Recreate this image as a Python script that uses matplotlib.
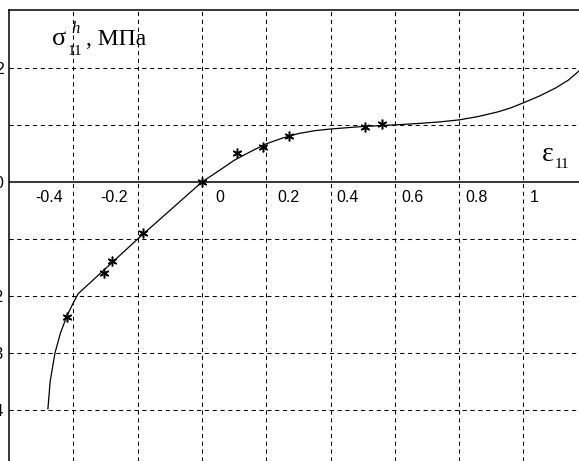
import matplotlib
matplotlib.use("Agg")
import matplotlib.pyplot as plt
import matplotlib.transforms as mtransforms

# fitted curve
curve_x = [-0.479, -0.472, -0.457, -0.44, -0.42, -0.40, -0.385, -0.30, -0.20, -0.10, 0.0,
           0.056, 0.10, 0.15, 0.20, 0.25, 0.30, 0.35, 0.40, 0.49, 0.59, 0.63, 0.68, 0.74, 0.80,
           0.86, 0.92, 0.96, 1.0, 1.05, 1.10, 1.14, 1.175]
curve_y = [-3.98, -3.5, -3.0, -2.65, -2.35, -2.12, -1.96, -1.52, -1.0, -0.5, 0.0,
           0.21, 0.38, 0.53, 0.67, 0.77, 0.85, 0.90, 0.93, 0.97, 1.0, 1.012, 1.03, 1.055, 1.09,
           1.15, 1.23, 1.30, 1.39, 1.51, 1.65, 1.79, 1.96]

# experimental points
pts_x = [-0.42, -0.305, -0.28, -0.183, 0.0, 0.109, 0.19, 0.27, 0.507, 0.56]
pts_y = [-2.37, -1.60, -1.39, -0.89, 0.0, 0.51, 0.62, 0.81, 0.97, 1.02]

xticks = [-0.4, -0.2, 0, 0.2, 0.4, 0.6, 0.8, 1]
xticklabels = ["-0.4", "-0.2", "0", "0.2", "0.4", "0.6", "0.8", "1"]
ygrid = [2, 1, -1, -2, -3, -4]
yticks = [2, 0, -2, -3, -4]
yticklabels = ["2", "0", "-2", "-3", "-4"]

# label offsets in pixels from grid line (layout only)
xlab_off = [-10, -10, 13, 11, 6, 7, 6, 6]

fig = plt.figure(figsize=(5.79, 4.61), dpi=100)
ax = fig.add_axes([9/579, 0, 1 - 9/579, 1 - 10/461])
ax.set_xlim(-0.6, 1.1726)
ax.set_ylim(-4.895, 3.018)

ax.spines['right'].set_visible(False)
ax.spines['bottom'].set_visible(False)
ax.spines['left'].set_linewidth(1.1)
ax.spines['top'].set_linewidth(1.1)

dash = (0, (4, 3.5))
for xv in xticks:
    ax.axvline(xv, color='black', lw=0.75, ls=dash, zorder=1)
for yv in ygrid:
    ax.axhline(yv, color='black', lw=0.75, ls=dash, zorder=1)
ax.axhline(0, color='black', lw=1.1, zorder=2)

ax.set_xticks([])
ax.set_yticks(yticks)
ax.set_yticklabels(yticklabels, fontsize=11.5, family='Liberation Sans')
ax.tick_params(axis='y', length=0, pad=3.8)

for xv, lab, off in zip(xticks, xticklabels, xlab_off):
    tr = mtransforms.offset_copy(ax.transData, fig=fig, x=off * 0.72, y=-15 * 0.72, units='points')
    ax.text(xv, 0, lab, transform=tr, ha='right' if off < 0 else 'left', va='center',
            fontsize=11.5, family='Liberation Sans')

ax.plot(curve_x, curve_y, color='black', lw=0.9, zorder=3)
ax.plot(pts_x, pts_y, ls='none', marker=(6, 2, 0), color='black', ms=7, mew=1.1, zorder=4)

W, H = 579, 461
serif = 'Liberation Serif'
# y-axis title: sigma_11^h, MPa
fig.text(52/W, 1 - 45/H, 'σ', fontsize=19, family=serif, va='baseline')
fig.text(68/W, 1 - 55/H, '11', fontsize=11, family=serif, va='baseline')
fig.text(71/W, 1 - 33/H, 'h', fontsize=12, family=serif, style='italic', va='baseline')
fig.text(86/W, 1 - 45/H, ', МПа', fontsize=17, family=serif, va='baseline')
# x-axis title: epsilon_11
fig.text(542/W, 1 - 161/H, 'ε', fontsize=20, family=serif, va='baseline')
fig.text(555/W, 1 - 168/H, '11', fontsize=11, family=serif, va='baseline')

fig.savefig('out.png', dpi=100)
